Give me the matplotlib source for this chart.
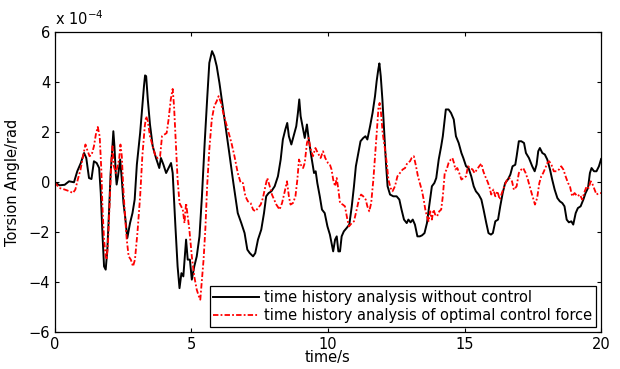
import matplotlib
matplotlib.use("Agg")
import matplotlib.pyplot as plt

plt.rcParams['font.family'] = ['DejaVu Sans']

# torsion angle, units of 1e-4 rad
t_nc = [0.00, 0.18, 0.37, 0.53, 0.71, 0.83, 0.96, 1.08, 1.16, 1.26, 1.35, 1.44, 1.54, 1.63,
        1.69, 1.75, 1.81, 1.87, 1.93, 1.99, 2.05, 2.11, 2.15, 2.19, 2.24, 2.27, 2.32, 2.40,
        2.46, 2.52, 2.58, 2.66, 2.76, 2.85, 2.93, 3.01, 3.13, 3.21, 3.27, 3.31, 3.35, 3.41,
        3.49, 3.59, 3.71, 3.83, 3.89, 3.98, 4.08, 4.17, 4.26, 4.32, 4.42, 4.50, 4.57, 4.64,
        4.71, 4.81, 4.87, 4.95, 5.02, 5.11, 5.20, 5.30, 5.39, 5.49, 5.58, 5.66, 5.76, 5.84,
        5.93, 6.03, 6.15, 6.27, 6.39, 6.54, 6.70, 6.83, 6.95, 7.05, 7.14, 7.26, 7.34, 7.44,
        7.56, 7.66, 7.74, 7.83, 7.93, 8.05, 8.17, 8.27, 8.35, 8.44, 8.51, 8.57, 8.66, 8.76,
        8.84, 8.90, 8.95, 9.00, 9.09, 9.15, 9.23, 9.29, 9.39, 9.49, 9.55, 9.61, 9.70, 9.78,
        9.88, 9.98, 10.07, 10.13, 10.19, 10.26, 10.32, 10.38, 10.44, 10.50, 10.58, 10.68,
        10.78, 10.87, 10.95, 11.02, 11.11, 11.19, 11.29, 11.37, 11.44, 11.54, 11.63, 11.72,
        11.78, 11.84, 11.88, 11.93, 11.99, 12.06, 12.12, 12.18, 12.27, 12.39, 12.51, 12.61,
        12.69, 12.78, 12.88, 12.94, 13.02, 13.10, 13.18, 13.27, 13.36, 13.44, 13.53, 13.62,
        13.70, 13.80, 13.89, 13.96, 14.05, 14.14, 14.20, 14.27, 14.31, 14.41, 14.50, 14.60,
        14.68, 14.78, 14.88, 14.95, 15.05, 15.14, 15.24, 15.33, 15.41, 15.51, 15.61, 15.69,
        15.79, 15.87, 15.96, 16.03, 16.12, 16.22, 16.30, 16.39, 16.48, 16.58, 16.67, 16.75,
        16.85, 16.90, 16.98, 17.07, 17.17, 17.24, 17.35, 17.47, 17.56, 17.63, 17.69, 17.75,
        17.84, 17.93, 18.02, 18.12, 18.20, 18.29, 18.39, 18.48, 18.57, 18.65, 18.73, 18.81,
        18.90, 18.97, 19.06, 19.14, 19.24, 19.34, 19.42, 19.51, 19.58, 19.64, 19.73, 19.82,
        19.91, 19.99]
y_nc = [0.00, -0.12, -0.10, 0.04, 0.00, 0.44, 0.77, 1.17, 0.97, 0.17, 0.13, 0.84, 0.77, 0.57,
        -0.43, -2.03, -3.36, -3.49, -2.69, -1.23, 0.37, 1.31, 2.04, 1.44, 0.31, -0.09, 0.24, 0.91,
        0.11, -0.83, -1.36, -2.23, -1.63, -1.23, -0.69, 0.71, 1.97, 3.04, 3.84, 4.27, 4.24, 3.31,
        2.31, 1.44, 0.97, 0.57, 0.97, 0.71, 0.37, 0.57, 0.77, 0.37, -1.76, -3.36, -4.23, -3.63,
        -3.76, -2.29, -3.09, -3.09, -3.89, -3.36, -2.96, -2.16, -0.56, 1.57, 3.31, 4.77, 5.24, 5.04,
        4.64, 3.97, 3.04, 2.11, 1.17, -0.03, -1.23, -1.63, -2.03, -2.69, -2.83, -2.96, -2.83, -2.29,
        -1.89, -1.23, -0.56, -0.43, -0.36, -0.16, 0.24, 0.91, 1.71, 2.11, 2.37, 1.84, 1.51, 1.91,
        2.24, 2.77, 3.31, 2.64, 2.11, 1.77, 2.31, 1.77, 1.04, 0.37, 0.44, -0.03, -0.56, -1.09,
        -1.23, -1.76, -2.09, -2.43, -2.76, -2.29, -2.16, -2.76, -2.76, -2.16, -1.96, -1.83,
        -1.69, -0.96, -0.16, 0.64, 1.17, 1.64, 1.77, 1.84, 1.71, 2.24, 2.77, 3.44,
        4.04, 4.51, 4.75, 4.24, 3.31, 1.97, 0.77, -0.16, -0.49, -0.56, -0.56, -0.69,
        -1.09, -1.49, -1.63, -1.49, -1.60, -1.49, -1.69, -2.16, -2.16, -2.12, -2.03, -1.63,
        -0.96, -0.16, -0.03, 0.17, 0.91, 1.44, 1.84, 2.51, 2.91, 2.91, 2.77, 2.51,
        1.84, 1.57, 1.17, 0.97, 0.64, 0.57, 0.24, -0.16, -0.36, -0.49, -0.69, -1.09,
        -1.63, -2.03, -2.09, -2.03, -1.56, -1.49, -0.96, -0.43, -0.03, 0.11, 0.31, 0.64,
        0.70, 1.04, 1.64, 1.64, 1.57, 1.17, 0.97, 0.64, 0.44, 0.71, 1.24, 1.37,
        1.17, 1.11, 0.91, 0.51, 0.11, -0.29, -0.63, -0.76, -0.83, -0.96, -1.49, -1.60,
        -1.56, -1.69, -1.23, -1.03, -0.96, -0.69, -0.43, -0.23, 0.37, 0.57, 0.44, 0.44,
        0.64, 0.93]

t_oc = [0.00, 0.18, 0.37, 0.55, 0.67, 0.76, 0.85, 0.95, 1.04, 1.13, 1.19, 1.28, 1.36, 1.44,
        1.51, 1.58, 1.65, 1.71, 1.75, 1.81, 1.87, 1.91, 1.96, 2.02, 2.08, 2.12, 2.17, 2.24,
        2.30, 2.36, 2.41, 2.46, 2.51, 2.57, 2.64, 2.71, 2.79, 2.87, 2.94, 3.03, 3.13, 3.21,
        3.30, 3.35, 3.41, 3.49, 3.59, 3.69, 3.77, 3.86, 3.93, 4.02, 4.10, 4.17, 4.25, 4.32,
        4.37, 4.44, 4.50, 4.57, 4.63, 4.69, 4.75, 4.81, 4.87, 4.93, 5.02, 5.11, 5.20, 5.30,
        5.33, 5.39, 5.45, 5.52, 5.58, 5.66, 5.75, 5.84, 5.93, 6.00, 6.09, 6.17, 6.27, 6.37,
        6.47, 6.58, 6.70, 6.81, 6.89, 6.98, 7.07, 7.17, 7.26, 7.34, 7.44, 7.54, 7.62, 7.71,
        7.78, 7.87, 7.95, 8.03, 8.11, 8.23, 8.32, 8.42, 8.50, 8.57, 8.63, 8.72, 8.81, 8.88,
        8.94, 9.00, 9.09, 9.15, 9.23, 9.29, 9.37, 9.45, 9.54, 9.63, 9.73, 9.82, 9.90, 10.00,
        10.07, 10.13, 10.19, 10.26, 10.32, 10.38, 10.44, 10.54, 10.62, 10.71, 10.77, 10.87,
        10.95, 11.05, 11.13, 11.21, 11.29, 11.38, 11.44, 11.51, 11.58, 11.66, 11.74, 11.80,
        11.85, 11.89, 11.94, 12.00, 12.07, 12.15, 12.21, 12.29, 12.36, 12.45, 12.54, 12.63,
        12.73, 12.82, 12.90, 13.00, 13.06, 13.14, 13.22, 13.29, 13.36, 13.44, 13.50, 13.56,
        13.62, 13.68, 13.74, 13.80, 13.86, 13.92, 13.99, 14.07, 14.14, 14.20, 14.27, 14.34,
        14.41, 14.49, 14.55, 14.61, 14.66, 14.73, 14.80, 14.88, 14.96, 15.05, 15.12, 15.20,
        15.29, 15.36, 15.45, 15.53, 15.61, 15.68, 15.75, 15.83, 15.90, 15.97, 16.05, 16.12,
        16.20, 16.28, 16.36, 16.45, 16.55, 16.63, 16.73, 16.80, 16.90, 16.98, 17.07, 17.14,
        17.23, 17.31, 17.41, 17.50, 17.57, 17.65, 17.73, 17.80, 17.87, 17.95, 18.02, 18.09,
        18.17, 18.26, 18.36, 18.45, 18.53, 18.61, 18.69, 18.78, 18.85, 18.93, 19.02, 19.12,
        19.21, 19.30, 19.39, 19.46, 19.53, 19.61, 19.68, 19.75, 19.82, 19.91, 19.99]
y_oc = [0.00, -0.23, -0.29, -0.36, -0.43, -0.29, 0.11, 0.51, 1.04, 1.51, 1.31, 1.04, 1.11, 1.44,
        1.91, 2.21, 1.84, 0.51, -0.96, -2.29, -2.96, -3.09, -2.29, -0.69, 0.91, 1.44, 0.64, 0.37,
        0.64, 0.91, 1.51, 1.04, -0.16, -1.23, -2.29, -2.96, -3.09, -3.36, -3.09, -2.03, -0.56, 1.04,
        2.24, 2.64, 2.44, 1.84, 1.44, 1.04, 0.97, 1.04, 1.84, 1.91, 1.97, 2.51, 3.31, 3.73,
        3.04, 1.44, 0.11, -0.83, -0.96, -1.09, -1.63, -0.83, -1.36, -1.89, -2.96, -3.76, -4.29, -4.63,
        -4.69, -3.89, -3.09, -1.76, -0.16, 1.31, 2.51, 3.04, 3.24, 3.44, 3.17, 2.77, 2.37, 1.97,
        1.57, 1.04, 0.37, -0.03, -0.03, -0.56, -0.76, -0.83, -1.09, -1.16, -1.03, -0.89, -0.63, -0.16,
        0.17, -0.16, -0.49, -0.69, -0.89, -1.09, -0.83, -0.36, 0.04, -0.56, -0.89, -0.83, -0.56, 0.11,
        0.91, 0.71, 0.57, 0.77, 1.57, 1.77, 1.31, 1.04, 1.37, 1.17, 0.97, 1.24, 0.97, 0.77,
        0.71, 0.51, 0.11, -0.16, 0.17, -0.29, -0.83, -0.89, -0.96, -1.49, -1.76, -1.63,
        -1.56, -1.09, -0.69, -0.49, -0.56, -0.69, -0.96, -1.16, -0.83, 0.11, 1.31, 2.24,
        3.04, 3.17, 2.77, 1.97, 1.44, 0.77, 0.11, -0.23, -0.36, -0.16, 0.24, 0.37,
        0.51, 0.57, 0.77, 0.84, 0.97, 1.04, 0.64, 0.24, -0.03, -0.35, -0.69, -1.09,
        -1.36, -1.56, -1.16, -1.49, -1.09, -1.29, -1.36, -1.16, -1.09, -0.56, 0.37, 0.51,
        0.77, 0.91, 0.97, 0.77, 0.51, 0.57, 0.37, 0.11, 0.17, 0.24, 0.64, 0.57,
        0.51, 0.37, 0.51, 0.64, 0.75, 0.44, 0.24, 0.04, -0.16, -0.49, -0.29, -0.56,
        -0.36, -0.69, -0.43, -0.16, 0.11, 0.17, 0.04, -0.30, -0.16, 0.37, 0.51, 0.57,
        0.37, 0.11, -0.29, -0.63, -0.89, -0.63, -0.03, 0.24, 0.37, 0.57, 0.77, 0.84,
        0.71, 0.44, 0.44, 0.51, 0.64, 0.51, 0.24, -0.03, -0.16, -0.56, -0.43, -0.56,
        -0.49, -0.69, -0.36, -0.16, -0.23, 0.04, -0.09, -0.29, -0.49, -0.43, -0.43]

x_ticks = [0, 5, 10, 15, 20]
y_ticks = [-6, -4, -2, 0, 2, 4, 6]

fig = plt.figure(figsize=(6.2, 3.69), dpi=100)
ax = fig.add_axes([0.088, 0.099, 0.882, 0.814])

ax.plot(t_nc, y_nc, color='black', lw=1.4, label='time history analysis without control')
ax.plot(t_oc, y_oc, color='red', lw=1.3, dashes=(3, 1.2, 1, 1.2),
        label='time history analysis of optimal control force')

ax.set_xlim(0, 20)
ax.set_ylim(-6, 6)
ax.set_xticks(x_ticks)
ax.set_yticks(y_ticks)
ax.tick_params(direction='in', top=True, right=True, labelsize=10.5, length=3, width=0.8,
               pad=3)
for s in ax.spines.values():
    s.set_linewidth(0.9)

ax.set_xlabel('time/s', fontsize=10.5, labelpad=-1)
ax.set_ylabel('Torsion Angle/rad', fontsize=10.5, labelpad=6)
ax.text(0.0, 1.012, 'x 10$^{-4}$', transform=ax.transAxes, fontsize=10.5,
        ha='left', va='bottom')

leg = ax.legend(loc='lower right', fontsize=10.5, handlelength=3.1, handletextpad=0.35,
                borderpad=0.25, labelspacing=0.2, fancybox=False, framealpha=1,
                edgecolor='black', borderaxespad=0.4)
leg.get_frame().set_linewidth(0.9)

fig.savefig('out.png', dpi=100)
